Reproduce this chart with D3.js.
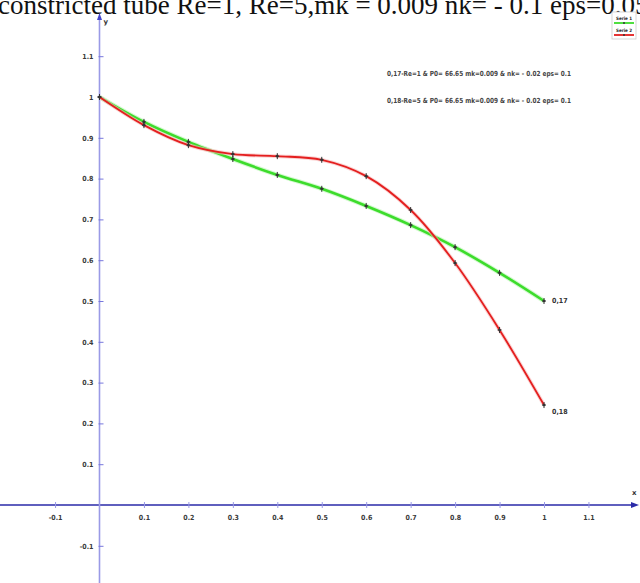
<!DOCTYPE html>
<html>
<head>
<meta charset="utf-8">
<script src="https://cdn.jsdelivr.net/npm/d3@7/dist/d3.min.js"></script>
<style>
  html, body { margin: 0; padding: 0; background: #fff; overflow: hidden; }
  svg { display: block; }
</style>
</head>
<body>
<script>
// Flow profiles along the constricted tube
const xValues = [0, 0.1, 0.2, 0.3, 0.4, 0.5, 0.6, 0.7, 0.8, 0.9, 1];
const serie1 = [1, 0.939, 0.89, 0.848, 0.809, 0.775, 0.733, 0.686, 0.632, 0.569, 0.5];
const serie2 = [1, 0.931, 0.882, 0.86, 0.855, 0.846, 0.806, 0.723, 0.593, 0.429, 0.245];
const seriesNames = ["Serie 1", "Serie 2"];
const endLabels = ["0,17", "0,18"];
const notes = [
  "0,17-Re=1  & P0= 66.65    mk=0.009  &  nk= - 0.02   eps= 0.1",
  "0,18-Re=5  & P0= 66.65    mk=0.009  &  nk= - 0.02   eps= 0.1"
];
const xTicks = [-0.1, 0.1, 0.2, 0.3, 0.4, 0.5, 0.6, 0.7, 0.8, 0.9, 1, 1.1];
const yTicks = [-0.1, 0.1, 0.2, 0.3, 0.4, 0.5, 0.6, 0.7, 0.8, 0.9, 1, 1.1];
const title = "constricted tube Re=1, Re=5,mk = 0.009 nk= - 0.1 eps=0.05";

const W = 640, H = 583;
const svg = d3.select("body").append("svg").attr("width", W).attr("height", H);

const x = d3.scaleLinear().domain([0, 1]).range([99.5, 544]);
const y = d3.scaleLinear().domain([0, 1]).range([505, 97]);

// title, running past the top and right edges
svg.append("text")
  .attr("x", -2).attr("y", 14)
  .attr("font-family", "Liberation Serif, Times New Roman, serif")
  .attr("font-size", 27)
  .attr("fill", "#111")
  .text(title);

// x axis line with arrow
const axisG = svg.append("g");
axisG.append("line")
  .attr("x1", 0).attr("x2", 633)
  .attr("y1", y(0)).attr("y2", y(0))
  .attr("stroke", "#2a2aa8").attr("stroke-width", 1.6);
axisG.append("path")
  .attr("d", `M${639},${y(0)} L${631},${y(0) - 3} L${631},${y(0) + 3} Z`)
  .attr("fill", "#2a2aa8");
axisG.append("text")
  .attr("x", 632).attr("y", y(0) - 10)
  .attr("font-family", "DejaVu Sans, sans-serif").attr("font-size", 7).attr("font-weight", "bold")
  .attr("fill", "#333").text("x");

// y axis line with arrow
axisG.append("line")
  .attr("x1", x(0)).attr("x2", x(0))
  .attr("y1", 18).attr("y2", H)
  .attr("stroke", "#9a9ae6").attr("stroke-width", 1.6);
axisG.append("path")
  .attr("d", `M${x(0)},${13} L${x(0) - 2.5},${20} L${x(0) + 2.5},${20} Z`)
  .attr("fill", "#4444cc");
axisG.append("text")
  .attr("x", x(0) + 4).attr("y", 24)
  .attr("font-family", "DejaVu Sans, sans-serif").attr("font-size", 7).attr("font-weight", "bold")
  .attr("fill", "#333").text("y");

const fmt = d => String(d);

// x ticks via d3 axis positioned on the zero line
const xAxis = d3.axisBottom(x).tickValues(xTicks).tickSize(0).tickPadding(10).tickFormat(fmt);
const gx = svg.append("g").attr("transform", `translate(0,${y(0)})`).call(xAxis);
gx.select(".domain").remove();
gx.selectAll(".tick").append("line")
  .attr("y1", -3).attr("y2", 3).attr("stroke", "#9a9ae6").attr("stroke-width", 1);
gx.selectAll("text")
  .attr("font-family", "DejaVu Sans Condensed, DejaVu Sans, sans-serif")
  .attr("font-size", 7).attr("font-weight", "bold").attr("fill", "#3a3a3a");

// y ticks
const yAxis = d3.axisLeft(y).tickValues(yTicks).tickSize(0).tickPadding(6).tickFormat(fmt);
const gy = svg.append("g").attr("transform", `translate(${x(0)},0)`).call(yAxis);
gy.select(".domain").remove();
gy.selectAll(".tick").append("line")
  .attr("x1", -1).attr("x2", 4).attr("stroke", "#7777dd").attr("stroke-width", 1);
gy.selectAll("text")
  .attr("font-family", "DejaVu Sans Condensed, DejaVu Sans, sans-serif")
  .attr("font-size", 7).attr("font-weight", "bold").attr("fill", "#3a3a3a");

// series curves
const line = d3.line()
  .x((d, i) => x(xValues[i]))
  .y(d => y(d))
  .curve(d3.curveCatmullRom.alpha(0.5));

const series = [
  { vals: serie1, color: "#3ddc2c", halo: "#b8f5b0", width: 2.6 },
  { vals: serie2, color: "#e41f1f", halo: "#f7b9b9", width: 1.8 }
];

series.forEach(s => {
  svg.append("path").attr("d", line(s.vals)).attr("fill", "none")
    .attr("stroke", s.halo).attr("stroke-width", s.width + 2).attr("opacity", 0.6);
  svg.append("path").attr("d", line(s.vals)).attr("fill", "none")
    .attr("stroke", s.color).attr("stroke-width", s.width);
});

// point markers
series.forEach(s => {
  const g = svg.append("g");
  s.vals.forEach((v, i) => {
    const px = x(xValues[i]), py = y(v);
    g.append("line").attr("x1", px).attr("x2", px).attr("y1", py - 3).attr("y2", py + 3)
      .attr("stroke", "#333").attr("stroke-width", 1);
    g.append("line").attr("x1", px - 2).attr("x2", px + 2).attr("y1", py).attr("y2", py)
      .attr("stroke", "#333").attr("stroke-width", 1);
    g.append("circle").attr("cx", px).attr("cy", py).attr("r", 1.3).attr("fill", "#333");
  });
});

// end labels
[serie1, serie2].forEach((vals, k) => {
  const last = vals.length - 1;
  svg.append("text")
    .attr("x", x(xValues[last]) + 8)
    .attr("y", y(vals[last]) + (k === 0 ? 2 : 9))
    .attr("font-family", "DejaVu Sans Condensed, DejaVu Sans, sans-serif")
    .attr("font-size", 7).attr("font-weight", "bold").attr("fill", "#333")
    .text(endLabels[k]);
});

// parameter notes
notes.forEach((t, i) => {
  svg.append("text")
    .attr("x", 387).attr("y", 76 + i * 27)
    .attr("font-family", "DejaVu Sans Condensed, DejaVu Sans, sans-serif")
    .attr("font-size", 7).attr("font-weight", "bold").attr("fill", "#444")
    .attr("textLength", 184).attr("lengthAdjust", "spacingAndGlyphs")
    .text(t);
});

// legend, drawn over the end of the title
const lg = svg.append("g").attr("transform", "translate(612,12)");
lg.append("rect").attr("width", 24).attr("height", 27)
  .attr("fill", "#fff").attr("stroke", "#ccc").attr("stroke-width", 0.8);
seriesNames.forEach((n, i) => {
  lg.append("text").attr("x", 4).attr("y", 8 + i * 12)
    .attr("font-family", "DejaVu Sans Condensed, DejaVu Sans, sans-serif")
    .attr("font-size", 4.5).attr("font-weight", "bold").attr("fill", "#222").text(n);
  lg.append("line").attr("x1", 2).attr("x2", 22).attr("y1", 11 + i * 12).attr("y2", 11 + i * 12)
    .attr("stroke", series[i].color).attr("stroke-width", 1.8);
  lg.append("circle").attr("cx", 12).attr("cy", 11 + i * 12).attr("r", 1).attr("fill", "#333");
});
</script>
</body>
</html>
